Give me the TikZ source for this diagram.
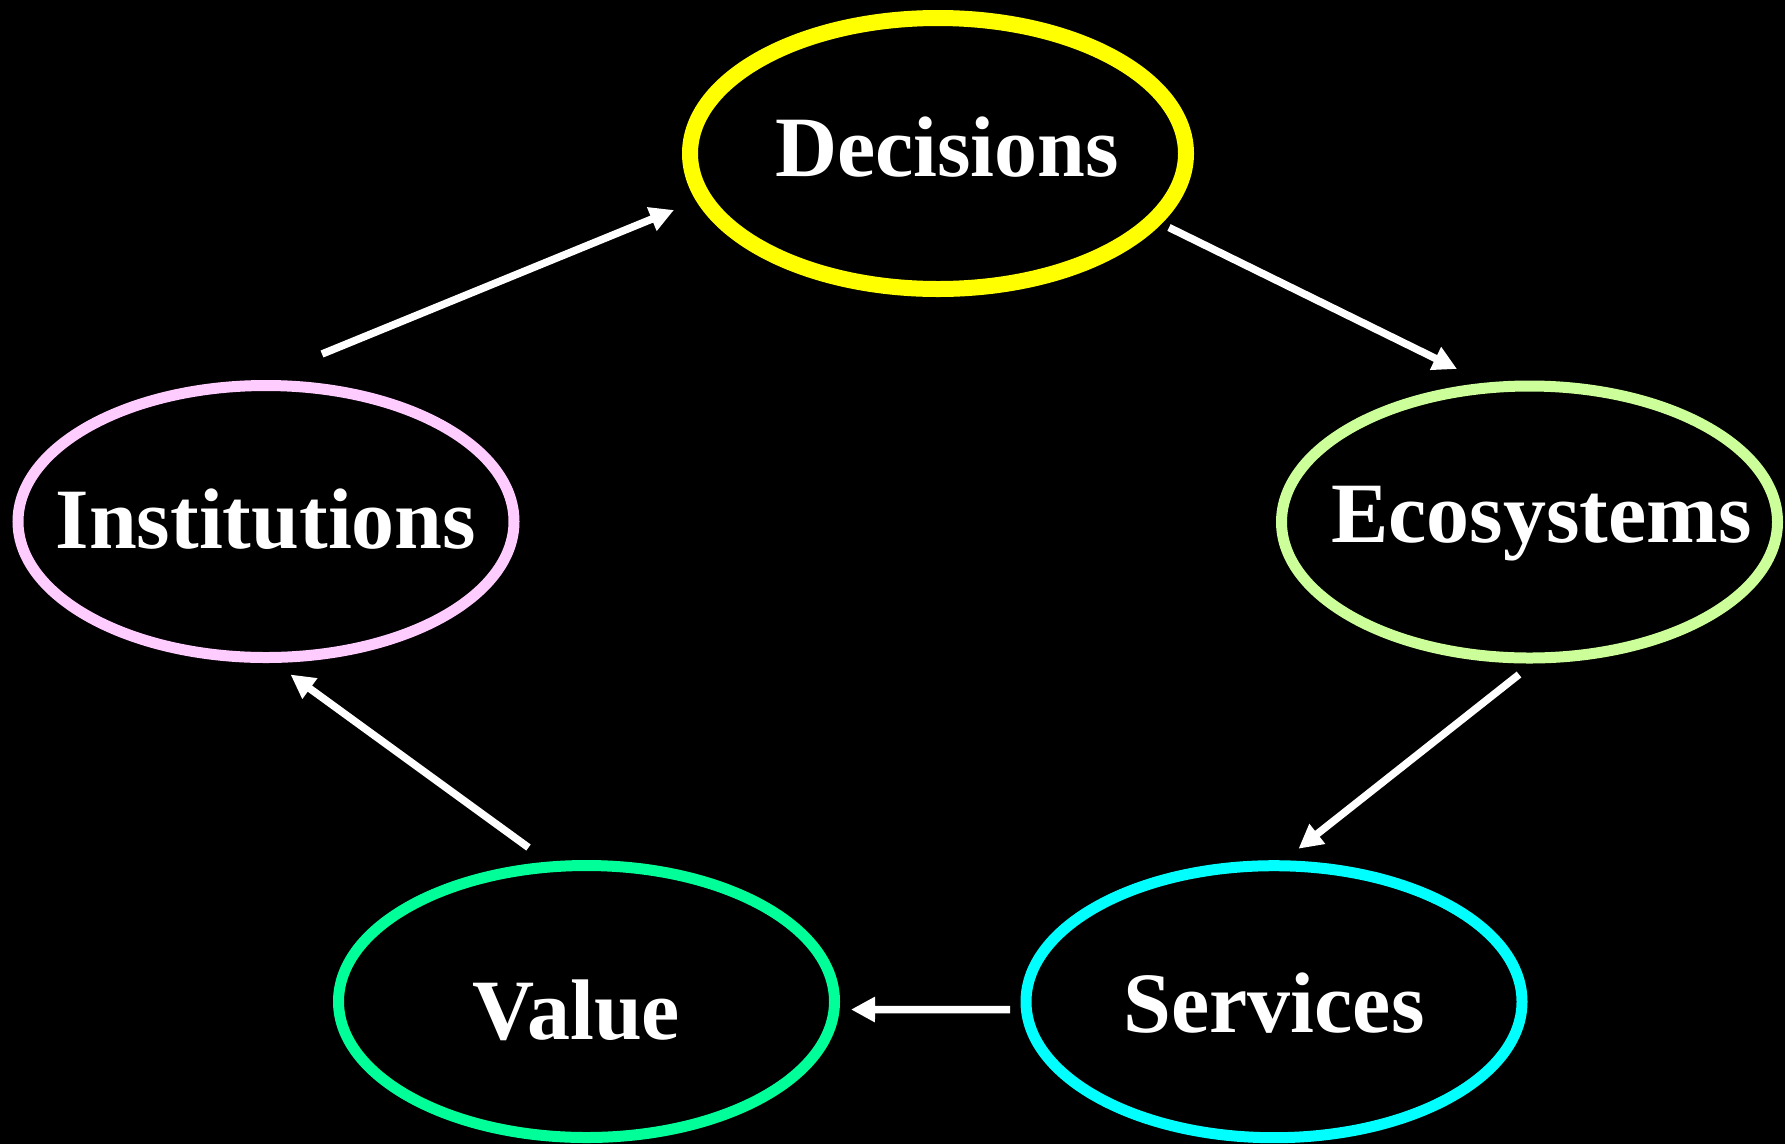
\documentclass[tikz,border=0pt]{standalone}
\usepackage{fontspec}
\setmainfont{Liberation Serif}
\usetikzlibrary{shapes.geometric,arrows.meta,calc}
\definecolor{decc}{HTML}{FFFF00}
\definecolor{ecoc}{HTML}{CCFF99}
\definecolor{insc}{HTML}{FFCCFF}
\definecolor{serc}{HTML}{00FFFF}
\definecolor{valc}{HTML}{00FF99}
\begin{document}
\begin{tikzpicture}[x=1pt,y=-1pt,
  oval/.style={ellipse, minimum width=496pt, minimum height=272pt, inner sep=0pt, line width=11pt},
  lbl/.style={anchor=base, inner sep=0pt, text=white, font=\bfseries\fontsize{86}{92}\selectfont},
  arr/.style={draw=white, line width=7.5pt, -{Triangle[length=24pt,width=24pt]}}]
\fill[black] (0,0) rectangle (1785,1144);
\useasboundingbox (0,0) rectangle (1785,1144);

\node[oval, draw=decc, line width=16pt, minimum height=271pt] (dec) at (938,153.5) {};
\node[oval, draw=ecoc] (eco) at (1529.5,522) {};
\node[oval, draw=insc] (ins) at (266,521.5) {};
\node[oval, draw=serc] (ser) at (1274,1001.7) {};
\node[oval, draw=valc] (val) at (586.5,1001.5) {};

\node[lbl] (decL) at ($(dec)+(9,22.5)$) {Decisions};
\node[lbl] (ecoL) at ($(eco)+(12,20)$) {Ecosystems};
\node[lbl] (insL) at ($(ins)+(0,26.5)$) {Institutions};
\node[lbl] (serL) at ($(ser)+(0,30.3)$) {Services};
\node[lbl] (valL) at ($(val)+(-10,37.5)$) {Value};

\draw[arr] ($(ins)+(56,-167.5)$) -- ($(dec)+(-264,56.5)$);
\draw[arr] ($(dec)+(231,74)$) -- ($(eco)+(-72.5,-153)$);
\draw[arr] ($(eco)+(-10.5,152.5)$) -- ($(ser)+(24.5,-153)$);
\draw[arr] ($(ser)+(-264,8)$) -- ($(val)+(264.5,8)$);
\draw[arr] ($(val)+(-58,-154)$) -- ($(ins)+(24.5,153)$);
\end{tikzpicture}
\end{document}
